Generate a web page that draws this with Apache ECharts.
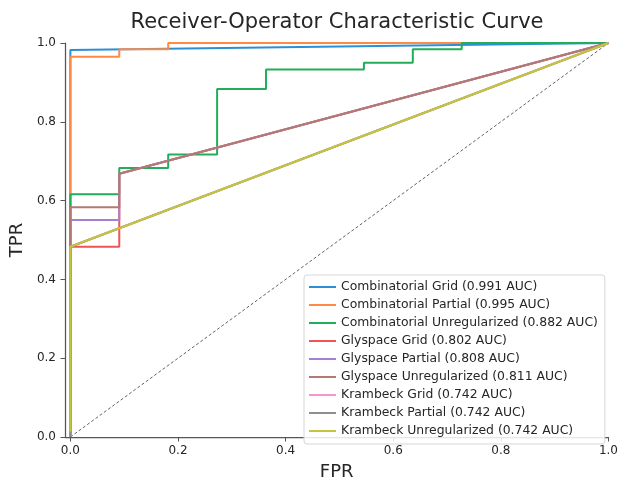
<!DOCTYPE html>
<html>
<head>
<meta charset="utf-8">
<script src="https://cdn.jsdelivr.net/npm/echarts@6/dist/echarts.min.js"></script>
<style>
html,body{margin:0;padding:0;background:#fff;}
#chart{width:621px;height:486px;}
</style>
</head>
<body>
<div id="chart"></div>
<script>
const FONT = '"DejaVu Sans", "Liberation Sans", sans-serif';

const tickValues = [0, 0.2, 0.4, 0.6, 0.8, 1.0];

const seriesNames = [
  'Combinatorial Grid (0.991 AUC)',
  'Combinatorial Partial (0.995 AUC)',
  'Combinatorial Unregularized (0.882 AUC)',
  'Glyspace Grid (0.802 AUC)',
  'Glyspace Partial (0.808 AUC)',
  'Glyspace Unregularized (0.811 AUC)',
  'Krambeck Grid (0.742 AUC)',
  'Krambeck Partial (0.742 AUC)',
  'Krambeck Unregularized (0.742 AUC)'
];

const seriesColors = ['#2b8fd4', '#ff8a45', '#22ad58', '#f05454', '#a57fd2', '#b27a70', '#f496cf', '#8e8e8e', '#c4c43e'];

const combGridFpr = [0, 0, 1];
const combGridTpr = [0, 0.982, 1];

const combPartialFpr = [0, 0, 0.0909, 0.0909, 0.1818, 0.1818, 1];
const combPartialTpr = [0, 0.965, 0.965, 0.984, 0.984, 1, 1];

const combUnregFpr = [0, 0, 0.0909, 0.0909, 0.1818, 0.1818, 0.2727, 0.2727, 0.3636, 0.3636, 0.5455, 0.5455, 0.6364, 0.6364, 0.7273, 0.7273, 1];
const combUnregTpr = [0, 0.616, 0.616, 0.683, 0.683, 0.717, 0.717, 0.883, 0.883, 0.933, 0.933, 0.950, 0.950, 0.984, 0.984, 1, 1];

const glyGridFpr = [0, 0, 0.0909, 0.0909, 1];
const glyGridTpr = [0, 0.483, 0.483, 0.668, 1];

const glyPartialFpr = [0, 0, 0.0909, 0.0909, 1];
const glyPartialTpr = [0, 0.551, 0.551, 0.668, 1];

const glyUnregFpr = [0, 0, 0.0909, 0.0909, 1];
const glyUnregTpr = [0, 0.583, 0.583, 0.668, 1];

const kramGridFpr = [0, 0, 1];
const kramGridTpr = [0, 0.483, 1];

const kramPartialFpr = [0, 0, 1];
const kramPartialTpr = [0, 0.483, 1];

const kramUnregFpr = [0, 0, 1];
const kramUnregTpr = [0.014, 0.483, 1];

const chanceFpr = [0, 1];
const chanceTpr = [0, 1];

const curves = [
  [combGridFpr, combGridTpr],
  [combPartialFpr, combPartialTpr],
  [combUnregFpr, combUnregTpr],
  [glyGridFpr, glyGridTpr],
  [glyPartialFpr, glyPartialTpr],
  [glyUnregFpr, glyUnregTpr],
  [kramGridFpr, kramGridTpr],
  [kramPartialFpr, kramPartialTpr],
  [kramUnregFpr, kramUnregTpr]
];

function pairs(xs, ys) { return xs.map((x, i) => [x, ys[i]]); }

const chart = echarts.init(document.getElementById('chart'), null, {renderer: 'canvas'});

const series = [{
  name: 'chance',
  type: 'line',
  data: pairs(chanceFpr, chanceTpr),
  symbol: 'none',
  silent: true,
  clip: false,
  lineStyle: {color: '#3a3a3a', width: 0.8, type: [3, 2.2]},
  z: 1
}];
curves.forEach((c, i) => {
  series.push({
    name: seriesNames[i],
    type: 'line',
    data: pairs(c[0], c[1]),
    symbol: 'none',
    showSymbol: false,
    clip: false,
    color: seriesColors[i],
    lineStyle: {color: seriesColors[i], width: 2},
    z: 2
  });
});

const axisColor = '#555555';
const textColor = '#262626';

chart.setOption({
  animation: false,
  backgroundColor: '#ffffff',
  title: {
    text: 'Receiver-Operator Characteristic Curve',
    left: 337,
    top: 12,
    padding: 0,
    textAlign: 'center',
    textStyle: {fontFamily: FONT, fontSize: 21, fontWeight: 'normal', color: textColor}
  },
  grid: {left: 63, right: 11, top: 43, bottom: 39, containLabel: false},
  legend: {
    data: seriesNames,
    orient: 'vertical',
    left: 304,
    top: 275,
    padding: [6, 7, 7, 4],
    itemWidth: 27,
    itemHeight: 12,
    itemGap: 6,
    itemTextGap: 13,
    itemStyle: {opacity: 0},
    backgroundColor: 'rgba(255,255,255,0.85)',
    borderColor: '#d6d6d6',
    borderWidth: 1,
    borderRadius: 3,
    textStyle: {fontFamily: FONT, fontSize: 12.4, color: textColor}
  },
  xAxis: {
    type: 'value',
    min: -0.01,
    max: 1.0,
    name: 'FPR',
    nameLocation: 'middle',
    nameGap: 26,
    nameTextStyle: {fontFamily: FONT, fontSize: 18, color: textColor},
    axisLine: {show: true, onZero: false, lineStyle: {color: axisColor, width: 1.25}},
    axisTick: {show: true, length: 4.5, customValues: tickValues, lineStyle: {color: axisColor, width: 1}},
    axisLabel: {customValues: tickValues, margin: 8, fontFamily: FONT, fontSize: 12, color: textColor,
      formatter: v => v.toFixed(1)},
    splitLine: {show: false}
  },
  yAxis: {
    type: 'value',
    min: 0,
    max: 1.0,
    interval: 0.2,
    name: 'TPR',
    nameLocation: 'middle',
    nameGap: 33,
    nameTextStyle: {fontFamily: FONT, fontSize: 18, color: textColor},
    axisLine: {show: true, onZero: false, lineStyle: {color: axisColor, width: 1.25}},
    axisTick: {show: true, length: 4.5, lineStyle: {color: axisColor, width: 1}},
    axisLabel: {margin: 9, fontFamily: FONT, fontSize: 12, color: textColor,
      formatter: v => v.toFixed(1)},
    splitLine: {show: false}
  },
  series: series
});
</script>
</body>
</html>
